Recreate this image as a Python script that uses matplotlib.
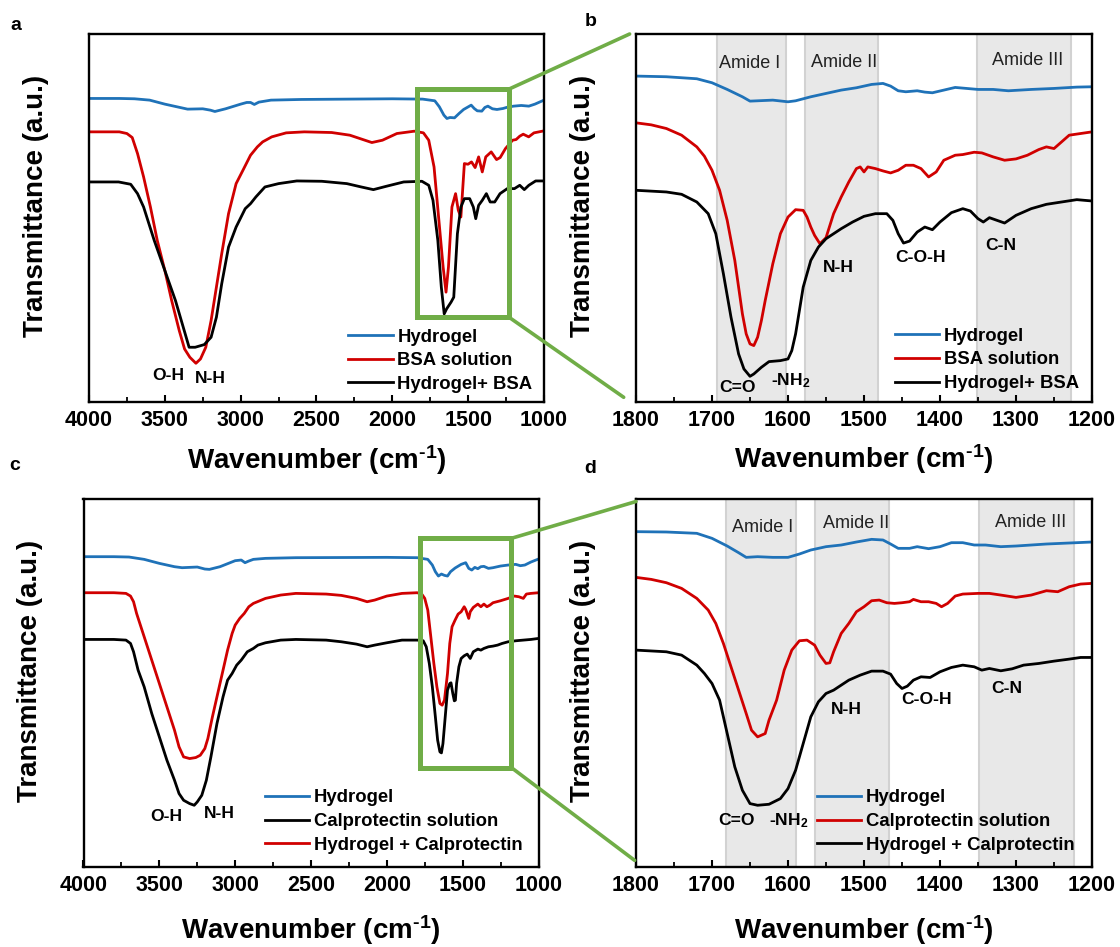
import matplotlib
matplotlib.use('Agg')
import matplotlib.pyplot as plt
from matplotlib.patches import Rectangle, ConnectionPatch
from matplotlib.ticker import MultipleLocator

plt.rcParams['font.family'] = ['Liberation Sans', 'DejaVu Sans']
plt.rcParams['font.weight'] = 'bold'
plt.rcParams['mathtext.fontset'] = 'custom'
plt.rcParams['mathtext.rm'] = 'Liberation Sans:bold'
plt.rcParams['mathtext.bf'] = 'Liberation Sans:bold'
plt.rcParams['mathtext.default'] = 'bf'

BLUE = '#1f72b8'
RED = '#d00000'
BLACK = '#000000'
GREEN = '#70ad47'

# ---------------- Panel a : full spectra, BSA ----------------
a_blue_wn = [4000,3800,3700,3600,3500,3400,3350,3250,3200,3170,3100,3000,2960,2935,2910,2880,2800,2600,2000,1800,1720,1690,1660,1640,1620,1590,1560,1530,1480,1460,1440,1410,1390,1370,1340,1310,1270,1240,1200,1150,1100,1060,1000]
a_blue_t = [908,908,907,903,891,881,876,877,873,869,877,891,896,896,890,897,903,905,907,906,901,883,858,848,851,850,863,875,888,878,871,870,881,885,877,875,878,882,885,887,885,891,903]

a_red_wn = [4000,3800,3750,3715,3680,3640,3595,3550,3500,3455,3405,3370,3335,3295,3265,3230,3195,3160,3125,3080,3030,2985,2935,2890,2855,2795,2700,2580,2400,2280,2135,2065,1970,1855,1795,1760,1725,1695,1665,1646,1630,1607,1583,1565,1548,1525,1501,1478,1454,1431,1407,1384,1348,1313,1289,1254,1207,1184,1160,1137,1101,1066,1000]
a_red_t = [808,808,803,791,743,673,583,483,393,303,213,158,133,115,128,163,243,343,443,563,653,693,738,763,778,793,805,808,806,798,776,783,803,810,805,783,703,553,403,328,403,583,623,573,553,713,711,718,701,733,688,733,748,725,731,758,783,785,795,801,793,805,811]

a_black_wn = [4000,3805,3725,3680,3640,3570,3500,3430,3385,3340,3300,3240,3195,3160,3125,3080,3030,2970,2935,2900,2840,2750,2630,2465,2300,2205,2125,2040,1925,1805,1760,1732,1700,1677,1658,1642,1613,1595,1571,1548,1525,1490,1466,1450,1431,1407,1380,1355,1325,1290,1242,1195,1160,1130,1100,1055,1000]
a_black_t = [658,658,651,623,583,483,393,303,233,163,163,171,193,253,353,463,523,578,593,613,643,653,661,660,653,643,635,645,658,660,648,603,483,343,263,278,298,313,503,583,608,608,583,548,588,603,623,598,598,623,638,638,648,635,648,661,661]

# ---------------- Panel b : amide region, BSA ----------------
b_blue_wn = [1800,1760,1720,1700,1680,1660,1650,1640,1620,1600,1590,1570,1550,1530,1510,1490,1475,1465,1455,1445,1430,1420,1410,1395,1380,1365,1350,1330,1310,1280,1250,1220,1200]
b_blue_t = [975,973,967,955,935,913,900,901,903,898,901,913,923,933,940,950,953,945,931,928,931,927,925,933,941,938,935,935,931,935,938,942,943]

b_red_wn = [1800,1780,1760,1740,1720,1710,1700,1690,1680,1670,1665,1660,1655,1650,1645,1640,1635,1630,1620,1610,1600,1590,1580,1575,1570,1565,1558,1550,1540,1530,1520,1510,1505,1500,1495,1485,1475,1465,1455,1445,1435,1425,1415,1405,1395,1380,1370,1355,1345,1330,1315,1300,1285,1270,1260,1250,1240,1230,1215,1200]
b_red_t = [835,829,818,798,763,735,693,633,543,423,343,263,203,173,168,193,243,303,413,503,553,575,573,553,523,498,473,491,563,613,658,698,703,688,703,698,691,685,693,708,708,698,673,688,723,738,740,747,745,733,723,727,738,755,763,758,778,798,803,808]

b_black_wn = [1800,1760,1740,1720,1705,1695,1685,1675,1665,1658,1650,1645,1635,1625,1610,1600,1595,1590,1585,1580,1570,1560,1550,1540,1530,1515,1500,1485,1470,1462,1455,1448,1440,1430,1420,1410,1400,1385,1370,1360,1350,1343,1335,1325,1315,1300,1280,1260,1240,1220,1200]
b_black_t = [633,628,621,598,563,503,383,253,143,98,76,83,103,120,123,128,153,203,273,343,423,463,488,503,518,538,555,563,563,543,503,475,481,508,523,515,538,566,578,571,548,538,551,543,535,558,578,591,598,605,601]

# ---------------- Panel c : full spectra, Calprotectin ----------------
c_blue_wn = [4000,3800,3700,3600,3500,3400,3350,3250,3200,3170,3100,3000,2960,2935,2910,2880,2800,2600,2000,1800,1730,1700,1680,1660,1640,1620,1600,1580,1550,1510,1480,1460,1440,1420,1400,1380,1360,1330,1300,1250,1200,1150,1120,1090,1050,1000]
c_blue_t = [930,930,929,922,910,900,897,899,893,892,900,918,920,912,917,922,925,927,928,927,922,905,885,872,878,874,872,885,896,907,912,895,890,898,894,900,901,895,897,902,905,907,903,905,914,923]

c_red_wn = [4000,3800,3720,3690,3670,3650,3600,3550,3500,3450,3400,3370,3340,3300,3260,3230,3200,3180,3150,3100,3050,3020,3000,2970,2940,2910,2880,2800,2700,2600,2400,2300,2200,2130,2080,2000,1900,1800,1770,1750,1730,1710,1690,1670,1650,1635,1620,1600,1585,1570,1550,1530,1510,1490,1480,1460,1450,1430,1400,1380,1360,1340,1320,1300,1250,1200,1160,1130,1100,1080,1050,1000]
c_red_t = [822,822,820,812,795,760,690,620,550,480,410,360,330,325,328,335,355,385,450,550,650,700,725,745,760,780,790,805,815,820,818,814,805,795,800,812,820,822,818,805,770,690,610,540,490,485,500,580,670,720,740,758,765,780,772,745,765,778,788,780,788,780,785,792,798,805,812,810,805,818,820,822]

c_black_wn = [4000,3800,3720,3690,3670,3640,3600,3550,3500,3450,3400,3370,3340,3300,3270,3250,3220,3190,3160,3120,3080,3050,3020,2990,2960,2920,2880,2850,2800,2700,2600,2400,2300,2200,2130,2080,2000,1900,1800,1760,1740,1720,1700,1680,1665,1650,1640,1630,1615,1600,1585,1577,1565,1555,1548,1540,1525,1510,1490,1470,1450,1430,1400,1380,1360,1330,1300,1270,1240,1200,1150,1100,1050,1000]
c_black_t = [682,682,680,670,645,590,540,460,390,320,260,220,200,190,185,195,215,260,330,430,510,560,580,605,620,645,655,665,672,680,682,680,675,668,660,665,672,680,680,678,660,610,540,450,380,345,342,370,450,530,550,552,520,498,500,550,600,625,633,638,625,645,653,650,655,660,662,665,670,675,678,680,682,685]

# ---------------- Panel d : amide region, Calprotectin ----------------
d_blue_wn = [1800,1760,1720,1700,1680,1665,1655,1640,1620,1600,1585,1570,1550,1530,1510,1490,1475,1465,1455,1440,1430,1415,1400,1385,1370,1355,1340,1320,1300,1260,1220,1200]
d_blue_t = [1005,1004,1000,985,962,942,928,930,928,928,938,950,960,965,974,982,980,968,955,955,960,954,960,972,972,965,965,960,962,968,972,974]

d_red_wn = [1800,1780,1760,1740,1720,1705,1695,1685,1675,1665,1655,1648,1640,1630,1625,1615,1605,1595,1585,1575,1565,1558,1550,1545,1540,1530,1520,1510,1500,1490,1480,1470,1460,1450,1440,1435,1425,1415,1405,1398,1390,1380,1370,1350,1335,1320,1300,1280,1260,1245,1230,1215,1200]
d_red_t = [868,862,852,835,805,770,730,670,600,530,460,410,390,400,440,500,590,650,678,680,665,635,610,612,645,700,730,765,780,798,800,792,790,792,795,802,795,795,790,780,790,812,818,820,820,815,808,815,828,825,840,848,850]

d_black_wn = [1800,1760,1740,1720,1710,1700,1690,1680,1670,1660,1650,1640,1625,1610,1600,1590,1580,1570,1560,1550,1540,1530,1520,1505,1490,1475,1465,1457,1450,1443,1435,1425,1413,1400,1385,1370,1355,1345,1335,1320,1305,1290,1270,1250,1230,1215,1200]
d_black_t = [650,645,635,605,580,550,500,400,300,230,190,185,188,205,235,290,370,450,495,520,530,545,560,575,587,587,578,550,535,542,560,570,568,585,598,605,600,590,595,588,594,605,610,617,623,628,628]

# Labels
legend_bsa = ['Hydrogel', 'BSA solution', 'Hydrogel+ BSA']
legend_cal_c = ['Hydrogel', 'Calprotectin solution', 'Hydrogel + Calprotectin']
legend_cal_d = ['Hydrogel', 'Calprotectin solution', 'Hydrogel + Calprotectin']
amide_names = ['Amide I', 'Amide II', 'Amide III']

# Amide bands (wavenumber limits)
b_bands = [(1694, 1603), (1578, 1481), (1351, 1227)]
d_bands = [(1681, 1589), (1564, 1467), (1349, 1224)]
b_amide_pos = [(1651, 1013), (1526, 1017), (1285, 1023)]
d_amide_pos = [(1633, 1018), (1511, 1028), (1281, 1033)]

# Peak annotations (text, wavenumber, level)
a_notes = [('O-H', 3478, 78), ('N-H', 3200, 68)]
c_notes = [('O-H', 3454, 150), ('N-H', 3101, 160)]
b_notes = [('C=O', 1667, 43), ('-NH$_2$', 1597, 62), ('N-H', 1534, 403), ('C-O-H', 1426, 433), ('C-N', 1320, 468)]
d_notes = [('C=O', 1668, 140), ('-NH$_2$', 1599, 138), ('N-H', 1523, 472), ('C-O-H', 1418, 502), ('C-N', 1312, 535)]

# Zoom boxes (wavenumber range, level range)
a_box = (1835, 1231, 253, 936)
c_box = (1783, 1179, 298, 985)

W, H = 1120, 947
fig = plt.figure(figsize=(W / 100, H / 100), dpi=100)

def px_axes(left, top, right, bottom):
    return fig.add_axes([left / W, 1 - bottom / H, (right - left) / W, (bottom - top) / H])

ax_a = px_axes(89, 34, 544, 401.7)
ax_b = px_axes(636, 34, 1092, 401.7)
ax_c = px_axes(83.5, 499.3, 538.5, 867)
ax_d = px_axes(636, 499.3, 1092, 867)

LW = 2.0
xlabel = r'Wavenumber (cm$^{\text{-1}}$)'

def style(ax, xlim, major, minor, ytop, lpad):
    ax.set_xlim(*xlim)
    ax.set_ylim(0, ytop)
    ax.xaxis.set_major_locator(MultipleLocator(major))
    ax.xaxis.set_minor_locator(MultipleLocator(minor))
    ax.tick_params(axis='x', which='major', direction='in', length=5, width=1.5,
                   labelsize=15.5, pad=6, top=False)
    ax.tick_params(axis='x', which='minor', direction='in', length=3.5, width=1.3, top=False)
    ax.tick_params(axis='y', left=False, labelleft=False, right=False)
    for lab in ax.get_xticklabels():
        lab.set_fontweight('bold')
    for s in ax.spines.values():
        s.set_linewidth(1.7)
    ax.set_xlabel(xlabel, fontsize=20, fontweight='bold', labelpad=lpad)
    ax.set_ylabel('Transmittance (a.u.)', fontsize=20, fontweight='bold')

def add_legend(ax, handles, labels, x, y):
    ax.legend(handles, labels, loc='upper left', bbox_to_anchor=(x, y), frameon=False,
              handlelength=2.4, handletextpad=0.25, labelspacing=0.36,
              borderpad=0, borderaxespad=0, prop={'weight': 'bold', 'size': 13.3})

# Panel a
la1, = ax_a.plot(a_blue_wn, a_blue_t, color=BLUE, lw=LW)
la2, = ax_a.plot(a_red_wn, a_red_t, color=RED, lw=LW)
la3, = ax_a.plot(a_black_wn, a_black_t, color=BLACK, lw=LW)
style(ax_a, (4000, 1000), 500, 250, 1101, 9)
add_legend(ax_a, [la1, la2, la3], legend_bsa, 0.570, 0.199)
for t, x, y in a_notes:
    ax_a.text(x, y, t, ha='center', va='center', fontsize=12.6, fontweight='bold')
ax_a.add_patch(Rectangle((a_box[1], a_box[2]), a_box[0] - a_box[1], a_box[3] - a_box[2],
                         fill=False, ec=GREEN, lw=3.6, zorder=6))

# Panel b
for lo, hi in b_bands:
    ax_b.axvspan(hi, lo, facecolor='#e8e8e8', edgecolor='#d2d2d2', lw=1.5, zorder=0)
lb1, = ax_b.plot(b_blue_wn, b_blue_t, color=BLUE, lw=LW)
lb2, = ax_b.plot(b_red_wn, b_red_t, color=RED, lw=LW)
lb3, = ax_b.plot(b_black_wn, b_black_t, color=BLACK, lw=LW)
style(ax_b, (1800, 1200), 100, 50, 1101, 8)
add_legend(ax_b, [lb1, lb2, lb3], legend_bsa, 0.568, 0.201)
for name, (x, y) in zip(amide_names, b_amide_pos):
    ax_b.text(x, y, name, ha='center', va='center', fontsize=13, fontweight='normal', color='#222222')
for t, x, y in b_notes:
    ax_b.text(x, y, t, ha='center', va='center', fontsize=12.6, fontweight='bold')

# Panel c
lc1, = ax_c.plot(c_blue_wn, c_blue_t, color=BLUE, lw=LW)
lc2, = ax_c.plot(c_red_wn, c_red_t, color=RED, lw=LW)
lc3, = ax_c.plot(c_black_wn, c_black_t, color=BLACK, lw=LW)
style(ax_c, (4000, 1000), 500, 250, 1102, 12)
add_legend(ax_c, [lc1, lc3, lc2], legend_cal_c, 0.398, 0.211)
for t, x, y in c_notes:
    ax_c.text(x, y, t, ha='center', va='center', fontsize=12.6, fontweight='bold')
ax_c.add_patch(Rectangle((c_box[1], c_box[2]), c_box[0] - c_box[1], c_box[3] - c_box[2],
                         fill=False, ec=GREEN, lw=3.6, zorder=6))

# Panel d
for lo, hi in d_bands:
    ax_d.axvspan(hi, lo, facecolor='#e8e8e8', edgecolor='#d2d2d2', lw=1.5, zorder=0)
ld1, = ax_d.plot(d_blue_wn, d_blue_t, color=BLUE, lw=LW)
ld2, = ax_d.plot(d_red_wn, d_red_t, color=RED, lw=LW)
ld3, = ax_d.plot(d_black_wn, d_black_t, color=BLACK, lw=LW)
style(ax_d, (1800, 1200), 100, 50, 1102, 12)
add_legend(ax_d, [ld1, ld2, ld3], legend_cal_d, 0.397, 0.211)
for name, (x, y) in zip(amide_names, d_amide_pos):
    ax_d.text(x, y, name, ha='center', va='center', fontsize=13, fontweight='normal', color='#222222')
for t, x, y in d_notes:
    ax_d.text(x, y, t, ha='center', va='center', fontsize=12.6, fontweight='bold')

for ax in (ax_a, ax_b, ax_c, ax_d):
    ax.yaxis.set_label_coords(-40 / 455, 0.533)

# Connector lines
def connect(ax1, p1, ax2, p2):
    con = ConnectionPatch(xyA=p1, coordsA=ax1.transData, xyB=p2, coordsB=ax2.transAxes,
                          color=GREEN, lw=2.6)
    fig.add_artist(con)

connect(ax_a, (a_box[1], a_box[3]), ax_b, (-0.014, 1.0))
connect(ax_a, (a_box[1], a_box[2]), ax_b, (-0.027, 0.012))
connect(ax_c, (c_box[1], c_box[3]), ax_d, (0.0, 0.994))
connect(ax_c, (c_box[1], c_box[2]), ax_d, (-0.003, 0.018))

# Panel letters
for letter, (x, y) in zip('abcd', [(16, 26), (591, 21), (15, 465), (590, 468)]):
    fig.text(x / W, 1 - y / H, letter, ha='center', va='center', fontsize=14, fontweight='bold')

fig.savefig('out.png', dpi=100)
